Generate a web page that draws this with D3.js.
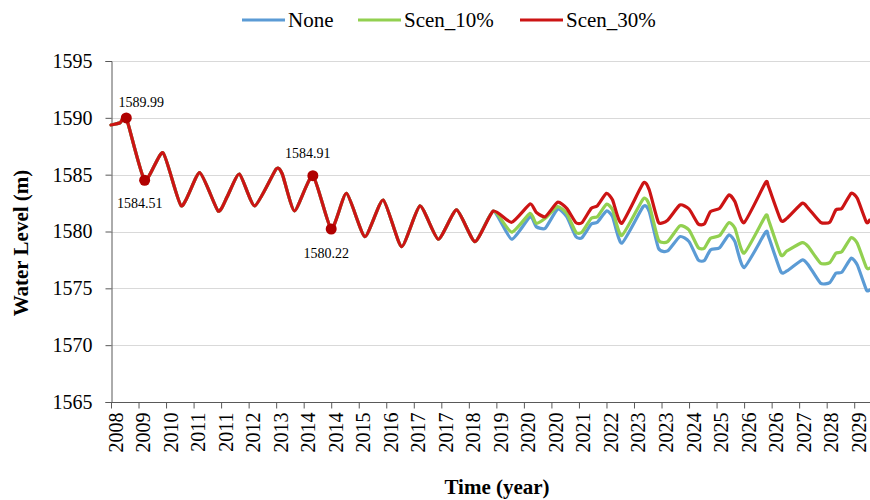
<!DOCTYPE html>
<html>
<head>
<meta charset="utf-8">
<script src="https://cdn.jsdelivr.net/npm/d3@7"></script>
<style>
  body { margin: 0; background: #fff; }
  svg { display: block; font-family: "Liberation Serif", "Times New Roman", serif; }
</style>
</head>
<body>
<div id="chart"></div>
<script>
// months counted from the first record (Oct 2008), levels in metres
// shared by all three runs until the scenarios split
const commonMonths = [0, 3, 5, 11, 17, 23, 29, 35, 38, 42, 47, 54, 56, 60, 66, 72, 77, 83, 89, 95, 101, 107, 113, 119, 125];
const commonLevels = [1589.37, 1589.57, 1589.99, 1584.51, 1586.93, 1582.25, 1585.18, 1581.81, 1583.07, 1585.06,
  1582.25, 1585.5, 1585.06, 1581.81, 1584.91, 1580.22, 1583.36, 1579.55, 1582.77, 1578.67, 1582.25, 1579.32,
  1581.9, 1579.11, 1581.8];

const splitMonths = [131, 137, 139, 142, 146, 149, 152, 154, 157, 159, 162, 164, 167, 174, 176, 179, 182, 186, 189,
  192, 194, 196, 199, 202, 204, 207, 214, 215, 219, 221, 226, 228, 232, 235, 237, 239, 242, 244, 247, 248];

const noneLevels = [1579.32, 1581.3, 1580.43, 1580.29, 1581.96, 1581.3, 1579.55, 1579.46, 1580.64, 1580.81,
  1581.81, 1581.3, 1578.97, 1582.19, 1581.75, 1578.53, 1578.29, 1579.55, 1579.11, 1577.5, 1577.44, 1578.38,
  1578.58, 1579.7, 1579.11, 1576.82, 1579.94, 1579.55, 1576.47, 1576.53, 1577.5, 1577.06, 1575.45, 1575.5,
  1576.33, 1576.42, 1577.65, 1577.06, 1574.86, 1574.86];

const scen10Levels = [1579.94, 1581.6, 1580.72, 1581.16, 1582.19, 1581.6, 1579.94, 1579.94, 1581.16, 1581.3,
  1582.4, 1581.9, 1579.64, 1582.86, 1582.33, 1579.26, 1579.11, 1580.5, 1580.14, 1578.58, 1578.53, 1579.41,
  1579.64, 1580.78, 1580.29, 1578.09, 1581.37, 1581.0, 1577.94, 1578.29, 1579.02, 1578.67, 1577.21, 1577.26,
  1578.09, 1578.23, 1579.46, 1578.97, 1576.82, 1576.77];

const scen30Levels = [1580.81, 1582.42, 1581.7, 1581.3, 1582.57, 1582.04, 1580.78, 1580.78, 1582.04, 1582.25,
  1583.36, 1582.77, 1580.72, 1584.24, 1583.65, 1580.81, 1581.0, 1582.33, 1581.98, 1580.66, 1580.66, 1581.75,
  1582.04, 1583.21, 1582.63, 1580.78, 1584.3, 1583.94, 1581.0, 1581.16, 1582.48, 1582.04, 1580.81, 1580.81,
  1581.9, 1582.04, 1583.36, 1582.92, 1580.81, 1581.0];

const seriesNames = ["None", "Scen_10%", "Scen_30%"];

// labelled points on the common record
const markerMonths = [5, 11, 66, 72];

// one axis label every 9 months
const tickMonths = d3.range(0, 244, 9);
const tickLabels = ["2008", "2009", "2010", "2011", "2011", "2012", "2013", "2014", "2014", "2015", "2016", "2017",
  "2017", "2018", "2019", "2020", "2020", "2021", "2022", "2023", "2023", "2024", "2025", "2026", "2026", "2027",
  "2028", "2029"];

const yTicks = [1565, 1570, 1575, 1580, 1585, 1590, 1595];

const colors = { "None": "#5b9bd5", "Scen_10%": "#92d050", "Scen_30%": "#cc1414" };

const width = 870, height = 500;
const margin = { top: 61, right: 0, bottom: 98, left: 111 };
const serif = "'Liberation Serif', 'Times New Roman', serif";

const svg = d3.select("#chart").append("svg")
  .attr("width", width)
  .attr("height", height);

svg.append("rect").attr("width", width).attr("height", height).attr("fill", "#fff");

const x = d3.scaleLinear()
  .domain([0, 248])
  .range([margin.left, 869.5]);

const y = d3.scaleLinear()
  .domain([1565, 1595])
  .range([height - margin.bottom, margin.top]);

// build the three series
function makeSeries(levels) {
  const pts = commonMonths.map((m, i) => ({ m: m, v: commonLevels[i] }));
  splitMonths.forEach((m, i) => pts.push({ m: m, v: levels[i] }));
  return pts;
}
const series = [
  { name: "None", values: makeSeries(noneLevels) },
  { name: "Scen_10%", values: makeSeries(scen10Levels) },
  { name: "Scen_30%", values: makeSeries(scen30Levels) }
];

// gridlines
svg.append("g")
  .selectAll("line")
  .data(yTicks.slice(1))
  .enter()
  .append("line")
  .attr("x1", margin.left)
  .attr("x2", width)
  .attr("y1", d => Math.round(y(d)) + 0.5)
  .attr("y2", d => Math.round(y(d)) + 0.5)
  .attr("stroke", "#d9d9d9")
  .attr("stroke-width", 1);

// y axis
const yAxis = svg.append("g")
  .attr("transform", "translate(" + (margin.left + 0.5) + ",0)")
  .call(d3.axisLeft(y).tickValues(yTicks).tickSize(6).tickPadding(13).tickFormat(d3.format("d")));
yAxis.attr("font-family", null);
yAxis.select(".domain").attr("stroke", "#595959");
yAxis.selectAll(".tick line").attr("stroke", "#595959");
yAxis.selectAll("text")
  .attr("fill", "#000")
  .style("font-size", "20px")
  .style("font-family", serif);

// x axis
const xAxis = svg.append("g")
  .attr("transform", "translate(0," + (Math.round(y(1565)) + 0.5) + ")")
  .call(d3.axisBottom(x).tickValues(tickMonths).tickSize(6).tickFormat((d, i) => tickLabels[i]));
xAxis.attr("font-family", null);
xAxis.select(".domain").attr("stroke", "#595959").attr("d", "M" + (margin.left + 0.5) + ",0H" + width);
xAxis.selectAll(".tick line").attr("stroke", "#595959");
xAxis.selectAll("text")
  .attr("fill", "#000")
  .attr("transform", "rotate(-90)")
  .attr("text-anchor", "end")
  .attr("x", -10)
  .attr("y", 0)
  .attr("dy", "0.55em")
  .style("font-size", "20px")
  .style("font-family", serif);

// lines
const line = d3.line()
  .x(d => x(d.m))
  .y(d => y(d.v))
  .curve(d3.curveCardinal.tension(0.45));

svg.append("g")
  .selectAll("path")
  .data(series)
  .enter()
  .append("path")
  .attr("d", d => line(d.values))
  .attr("fill", "none")
  .attr("stroke", d => colors[d.name])
  .attr("stroke-width", 3.2)
  .attr("stroke-linejoin", "round")
  .attr("stroke-linecap", "round");

// labelled markers
const markers = markerMonths.map(m => ({ m: m, v: commonLevels[commonMonths.indexOf(m)] }));
const labelShift = [[15, -11], [-5, 28], [-5, -18], [-5, 29]];

svg.append("g")
  .selectAll("circle")
  .data(markers)
  .enter()
  .append("circle")
  .attr("cx", d => x(d.m))
  .attr("cy", d => y(d.v))
  .attr("r", 5.5)
  .attr("fill", "#b00000");

svg.append("g")
  .selectAll("text")
  .data(markers)
  .enter()
  .append("text")
  .attr("x", (d, i) => x(d.m) + labelShift[i][0])
  .attr("y", (d, i) => y(d.v) + labelShift[i][1])
  .attr("text-anchor", "middle")
  .style("font-size", "14px")
  .attr("fill", "#000")
  .text(d => d3.format(".2f")(d.v));

// axis titles
svg.append("text")
  .attr("transform", "translate(28," + 243 + ") rotate(-90)")
  .attr("text-anchor", "middle")
  .style("font-size", "21px")
  .style("font-weight", "bold")
  .text("Water Level (m)");

svg.append("text")
  .attr("x", 497)
  .attr("y", 494)
  .attr("text-anchor", "middle")
  .style("font-size", "21px")
  .style("font-weight", "bold")
  .text("Time (year)");

// legend
const legendX = [242, 358, 520];
const legend = svg.append("g")
  .selectAll("g")
  .data(seriesNames)
  .enter()
  .append("g")
  .attr("transform", (d, i) => "translate(" + legendX[i] + ",20)");
legend.append("line")
  .attr("x1", 0)
  .attr("x2", 43)
  .attr("stroke", d => colors[d])
  .attr("stroke-width", 3.2);
legend.append("text")
  .attr("x", 46)
  .attr("dy", "0.35em")
  .style("font-size", "21px")
  .attr("fill", "#000")
  .text(d => d);
</script>
</body>
</html>
